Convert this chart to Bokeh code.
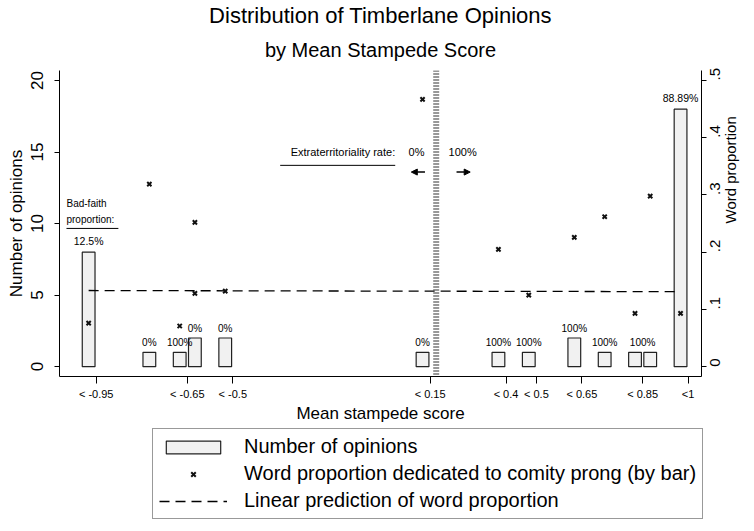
import math
from bokeh.plotting import figure
from bokeh.layouts import column
from bokeh.models import (ColumnDataSource, Range1d, LinearAxis, FixedTicker, Span, Label,
                          Legend, LegendItem, Arrow, NormalHead, Title)
from bokeh.core.properties import value
from bokeh.embed import file_html
from bokeh.resources import INLINE

FONT = "Liberation Sans"

# ---------------- data ----------------
bin_centers = [-0.975, -0.775, -0.675, -0.625, -0.525, 0.125, 0.375, 0.475, 0.625, 0.725, 0.825, 0.875, 0.975]
opinion_counts = [8, 1, 1, 2, 2, 1, 1, 1, 2, 1, 1, 1, 18]

bad_faith_x = [-0.975, 0.975]
bad_faith_labels = ["12.5%", "88.89%"]

rate_x = [-0.775, -0.675, -0.625, -0.525, 0.125, 0.375, 0.475, 0.625, 0.725, 0.85]
rate_labels = ["0%", "100%", "0%", "0%", "0%", "100%", "100%", "100%", "100%", "100%"]

word_x = [-0.975, -0.775, -0.675, -0.625, -0.625, -0.525, 0.125, 0.375, 0.475, 0.625, 0.725, 0.825, 0.875, 0.975]
word_prop = [0.076, 0.319, 0.071, 0.252, 0.128, 0.132, 0.467, 0.205, 0.125, 0.226, 0.262, 0.093, 0.298, 0.093]

pred_x = [-0.975, 0.975]
pred_prop = [0.133, 0.131]

x_ticks = [-0.95, -0.65, -0.5, 0.15, 0.4, 0.5, 0.65, 0.85, 1.0]
x_tick_labels = ["< -0.95", "< -0.65", "< -0.5", "< 0.15", "< 0.4", "< 0.5", "< 0.65", "< 0.85", "<1"]
count_ticks = [0, 5, 10, 15, 20]
prop_ticks = [0, 0.1, 0.2, 0.3, 0.4, 0.5]
prop_tick_labels = ["0", ".1", ".2", ".3", ".4", ".5"]
split_x = 0.17

legend_labels = ["Number of opinions",
                 "Word proportion dedicated to comity prong (by bar)",
                 "Linear prediction of word proportion"]

# ---------------- derived label heights ----------------
def height_at(x):
    return max(c for b, c in zip(bin_centers, opinion_counts) if abs(b - x) < 0.03)

rate_y = [height_at(x) for x in rate_x]
bad_faith_y = [height_at(x) for x in bad_faith_x]

# ---------------- styles ----------------
BAR = dict(fill_color="#f1f1f1", line_color="#222222", line_width=1.2)
PRED = dict(line_color="black", line_width=1.3, line_dash="10 6")
PTS = dict(marker="x", size=6, line_color="#111111", line_width=2)

W = 750

# ---------------- main figure ----------------
p = figure(width=W, height=425,
           x_range=Range1d(-1.071, 1.044), y_range=Range1d(-0.69, 20.7),
           output_backend="svg", toolbar_location=None,
           min_border_left=59, min_border_right=48, min_border_top=70, min_border_bottom=45)
p.frame_align = False
p.extra_y_ranges = {"prop": Range1d(-0.69 / 40, 20.7 / 40)}
p.outline_line_color = None
p.xgrid.grid_line_color = None
p.ygrid.grid_line_color = None
p.background_fill_color = "white"
p.border_fill_color = "white"

# titles (later-added "above" items sit closer to the frame)
p.title.text = "Distribution of Timberlane Opinions"
p.title.align = "center"
p.title.text_font = FONT
p.title.text_font_size = "22px"
p.title.text_font_style = "normal"
p.title.text_color = "black"
p.title.standoff = 0
p.add_layout(Title(text="by Mean Stampede Score", align="center", text_font=FONT,
                   text_font_size="20px", text_font_style="normal", text_color="black",
                   standoff=19), "above")

# x axis
xa = p.xaxis[0]
xa.ticker = FixedTicker(ticks=x_ticks)
xa.major_label_overrides = {t: l for t, l in zip(x_ticks, x_tick_labels)}
xa.major_label_text_font = FONT
xa.major_label_text_font_size = "11px"
xa.major_label_text_color = "black"
xa.major_tick_out = 7
xa.major_tick_in = 0
xa.minor_tick_out = 0
xa.minor_tick_in = 0
xa.major_label_standoff = 4
xa.axis_label = "Mean stampede score"
xa.axis_label_text_font = FONT
xa.axis_label_text_font_size = "17px"
xa.axis_label_text_font_style = "normal"
xa.axis_label_text_color = "black"
xa.axis_label_standoff = 1
xa.axis_line_color = "black"
xa.major_tick_line_color = "black"

# left axis
ya = p.yaxis[0]
ya.ticker = FixedTicker(ticks=count_ticks)
ya.major_label_orientation = "vertical"
ya.major_label_text_font = FONT
ya.major_label_text_font_size = "17px"
ya.major_label_text_color = "black"
ya.major_tick_out = 5
ya.major_tick_in = 0
ya.minor_tick_out = 0
ya.minor_tick_in = 0
ya.major_label_standoff = 11
ya.axis_label = "Number of opinions"
ya.axis_label_text_font = FONT
ya.axis_label_text_font_size = "17px"
ya.axis_label_text_font_style = "normal"
ya.axis_label_text_color = "black"
ya.axis_label_standoff = 3
ya.axis_line_color = "black"

# right axis
ra = LinearAxis(y_range_name="prop", ticker=FixedTicker(ticks=prop_ticks),
                major_label_overrides={t: l for t, l in zip(prop_ticks, prop_tick_labels)})
ra.major_label_orientation = math.pi / 2
ra.major_label_text_font = FONT
ra.major_label_text_font_size = "15px"
ra.major_label_text_color = "black"
ra.major_tick_out = 5
ra.major_tick_in = 0
ra.minor_tick_out = 0
ra.minor_tick_in = 0
ra.major_label_standoff = 9
ra.axis_label = "Word proportion"
ra.axis_label_orientation = math.pi / 2
ra.axis_label_text_font = FONT
ra.axis_label_text_font_size = "15px"
ra.axis_label_text_font_style = "normal"
ra.axis_label_text_color = "black"
ra.axis_label_standoff = 2
ra.axis_line_color = "black"
p.add_layout(ra, "right")

# vertical split line
p.add_layout(Span(location=split_x, dimension="height", line_color="#333333",
                  line_width=6, line_dash="1 2"))

# bars
bar_src = ColumnDataSource(dict(x=bin_centers, top=opinion_counts))
p.vbar(x="x", top="top", bottom=0, width=0.042, source=bar_src, **BAR)

# prediction line
p.line(pred_x, pred_prop, y_range_name="prop", **PRED)

# word proportion markers
p.scatter(word_x, word_prop, y_range_name="prop", **PTS)

# bar labels
lab_src = ColumnDataSource(dict(x=rate_x, y=rate_y, t=rate_labels))
p.text(x="x", y="y", text="t", source=lab_src, text_font=value(FONT), text_font_size="10px",
       text_align="center", text_baseline="bottom", y_offset=-4, text_color="black")
bf_src = ColumnDataSource(dict(x=bad_faith_x, y=bad_faith_y, t=bad_faith_labels))
p.text(x="x", y="y", text="t", source=bf_src, text_font=value(FONT), text_font_size="10.5px",
       text_align="center", text_baseline="bottom", y_offset=-5, text_color="black")

# annotations: extraterritoriality rate
def note(x, y, t, size="11px", align="center"):
    p.add_layout(Label(x=x, y=y, text=t, text_font=FONT, text_font_size=size,
                       text_align=align, text_baseline="middle", text_color="black"))

note(0.035, 15.03, "Extraterritoriality rate:", align="right")
p.line([-0.344, 0.035], [14.07, 14.07], line_color="black", line_width=1)
note(0.105, 15.03, "0%")
note(0.257, 15.03, "100%")
p.add_layout(Arrow(end=NormalHead(size=6, fill_color="black", line_color="black"),
                   x_start=0.133, y_start=13.6, x_end=0.088, y_end=13.6,
                   line_width=1.5, line_color="black"))
p.add_layout(Arrow(end=NormalHead(size=6, fill_color="black", line_color="black"),
                   x_start=0.237, y_start=13.6, x_end=0.282, y_end=13.6,
                   line_width=1.5, line_color="black"))

# annotations: bad-faith proportion
note(-1.048, 11.38, "Bad-faith", size="10px", align="left")
note(-1.048, 10.3, "proportion:", size="10px", align="left")
p.line([-1.048, -0.877], [9.66, 9.66], line_color="black", line_width=1)

# ---------------- legend strip ----------------
lg = figure(width=W, height=102, x_range=Range1d(0, 1), y_range=Range1d(0, 1),
            output_backend="svg", toolbar_location=None,
            x_axis_location=None, y_axis_location=None,
            min_border_left=0, min_border_right=0, min_border_top=0, min_border_bottom=0)
lg.frame_align = False
lg.outline_line_color = None
lg.xgrid.grid_line_color = None
lg.ygrid.grid_line_color = None
lg.background_fill_color = "white"
lg.border_fill_color = "white"
# off-screen sample glyphs, present only so the legend can draw their symbols
r_bar = lg.vbar(x=[-5], top=[-5], bottom=-6, width=0.1, **BAR)
r_pts = lg.scatter(x=[-5], y=[-5], **PTS)
r_pred = lg.line(x=[-5, -4], y=[-5, -5], **PRED)

legend = Legend(items=[
    LegendItem(label=legend_labels[0], renderers=[r_bar]),
    LegendItem(label=legend_labels[1], renderers=[r_pts]),
    LegendItem(label=legend_labels[2], renderers=[r_pred]),
], location=(152, 8), orientation="vertical")
legend.label_text_font = FONT
legend.label_text_font_size = "20px"
legend.label_text_color = "black"
legend.glyph_width = 68
legend.glyph_height = 16
legend.label_height = 22
legend.label_standoff = 17
legend.spacing = 4
legend.padding = 6
legend.margin = 0
legend.border_line_color = "#333333"
legend.border_line_width = 1
legend.background_fill_alpha = 1
lg.add_layout(legend, "center")

layout = column(p, lg, spacing=0)
open("out.html", "w").write(file_html(layout, INLINE))
